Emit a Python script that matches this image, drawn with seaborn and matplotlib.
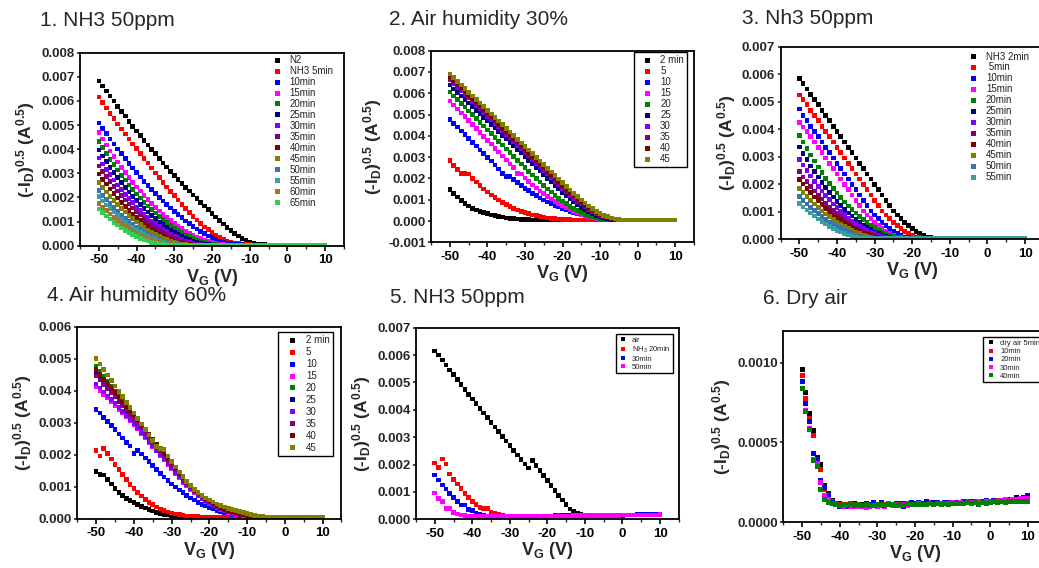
import matplotlib
matplotlib.use("Agg")
import matplotlib.pyplot as plt
import seaborn as sns
import pandas as pd
from matplotlib.lines import Line2D

# ---------------- data (gate voltage grid and sqrt drain current) ----------------
VG = list(range(-50, 11))

# Panel 1 : NH3 50ppm   (values in 1e-4 A^0.5)
p1_labels = ["N2", "NH3 5min", "10min", "15min", "20min", "25min", "30min",
             "35min", "40min", "45min", "50min", "55min", "60min", "65min"]
p1_n2 = [68.3, 66.2, 64.1, 62.0, 59.9, 57.8, 55.7, 53.7, 51.6, 49.5,
         47.5, 45.6, 43.7, 41.8, 39.9, 38.1, 36.2, 34.3, 32.6, 30.8,
         29.0, 27.4, 25.8, 24.2, 22.6, 21.0, 19.5, 17.9, 16.4, 14.9,
         13.4, 11.9, 10.4, 9.0, 7.6, 6.3, 5.1, 4.0, 3.0, 2.2,
         1.5, 1.0, 0.7, 0.5, 0.4, 0.3, 0.3, 0.3, 0.3, 0.3,
         0.3, 0.3, 0.3, 0.3, 0.3, 0.3, 0.3, 0.3, 0.3, 0.3,
         0.3]
p1_5 = [61.7, 59.4, 57.1, 54.9, 52.7, 50.5, 48.4, 46.3, 44.2, 42.2,
        40.2, 38.2, 36.2, 34.2, 32.2, 30.2, 28.2, 26.3, 24.4, 22.5,
        20.7, 18.9, 17.1, 15.4, 13.7, 12.1, 10.6, 9.2, 7.8, 6.6,
        5.4, 4.4, 3.5, 2.7, 2.0, 1.5, 1.1, 0.8, 0.6, 0.5,
        0.4, 0.3, 0.3, 0.3, 0.3, 0.3, 0.3, 0.3, 0.3, 0.3,
        0.3, 0.3, 0.3, 0.3, 0.3, 0.3, 0.3, 0.3, 0.3, 0.3,
        0.3]
p1_10 = [50.8, 48.6, 46.4, 44.3, 42.2, 40.1, 38.1, 36.1, 34.1, 32.2,
         30.3, 28.5, 26.7, 25.0, 23.3, 21.7, 20.1, 18.6, 17.1, 15.7,
         14.3, 12.9, 11.6, 10.3, 9.1, 8.0, 6.9, 5.9, 5.0, 4.1,
         3.3, 2.6, 2.0, 1.5, 1.1, 0.8, 0.6, 0.5, 0.4, 0.3,
         0.3, 0.3, 0.3, 0.3, 0.3, 0.3, 0.3, 0.3, 0.3, 0.3,
         0.3, 0.3, 0.3, 0.3, 0.3, 0.3, 0.3, 0.3, 0.3, 0.3,
         0.3]
p1_15 = [46.8, 44.2, 41.7, 39.3, 37.0, 34.7, 32.5, 30.4, 28.3, 26.3,
         24.4, 22.6, 20.8, 19.1, 17.5, 15.9, 14.4, 13.0, 11.7, 10.4,
         9.2, 8.1, 7.1, 6.1, 5.2, 4.4, 3.6, 2.9, 2.3, 1.8,
         1.3, 0.9, 0.6, 0.4, 0.3, 0.3, 0.3, 0.3, 0.3, 0.3,
         0.3, 0.3, 0.3, 0.3, 0.3, 0.3, 0.3, 0.3, 0.3, 0.3,
         0.3, 0.3, 0.3, 0.3, 0.3, 0.3, 0.3, 0.3, 0.3, 0.3,
         0.3]
p1_20 = [43.1, 40.6, 38.2, 35.8, 33.6, 31.4, 29.2, 27.2, 25.2, 23.3,
         21.5, 19.7, 18.0, 16.4, 14.9, 13.5, 12.1, 10.8, 9.5, 8.4,
         7.3, 6.3, 5.4, 4.5, 3.7, 3.0, 2.4, 1.8, 1.3, 0.9,
         0.6, 0.4, 0.3, 0.3, 0.3, 0.3, 0.3, 0.3, 0.3, 0.3,
         0.3, 0.3, 0.3, 0.3, 0.3, 0.3, 0.3, 0.3, 0.3, 0.3,
         0.3, 0.3, 0.3, 0.3, 0.3, 0.3, 0.3, 0.3, 0.3, 0.3,
         0.3]
p1_25 = [39.6, 37.2, 34.8, 32.5, 30.3, 28.2, 26.1, 24.2, 22.3, 20.5,
         18.7, 17.1, 15.5, 14.0, 12.5, 11.2, 9.9, 8.7, 7.6, 6.5,
         5.6, 4.7, 3.9, 3.1, 2.5, 1.9, 1.4, 1.0, 0.6, 0.4,
         0.3, 0.3, 0.3, 0.3, 0.3, 0.3, 0.3, 0.3, 0.3, 0.3,
         0.3, 0.3, 0.3, 0.3, 0.3, 0.3, 0.3, 0.3, 0.3, 0.3,
         0.3, 0.3, 0.3, 0.3, 0.3, 0.3, 0.3, 0.3, 0.3, 0.3,
         0.3]
p1_30 = [36.3, 33.9, 31.6, 29.4, 27.3, 25.2, 23.2, 21.3, 19.5, 17.8,
         16.1, 14.6, 13.1, 11.7, 10.3, 9.1, 7.9, 6.8, 5.8, 4.9,
         4.0, 3.3, 2.6, 2.0, 1.5, 1.0, 0.7, 0.4, 0.3, 0.3,
         0.3, 0.3, 0.3, 0.3, 0.3, 0.3, 0.3, 0.3, 0.3, 0.3,
         0.3, 0.3, 0.3, 0.3, 0.3, 0.3, 0.3, 0.3, 0.3, 0.3,
         0.3, 0.3, 0.3, 0.3, 0.3, 0.3, 0.3, 0.3, 0.3, 0.3,
         0.3]
p1_35 = [33.0, 30.8, 28.6, 26.5, 24.5, 22.6, 20.8, 19.0, 17.3, 15.7,
         14.2, 12.7, 11.3, 10.0, 8.8, 7.7, 6.6, 5.7, 4.7, 3.9,
         3.2, 2.5, 1.9, 1.4, 1.0, 0.6, 0.4, 0.3, 0.3, 0.3,
         0.3, 0.3, 0.3, 0.3, 0.3, 0.3, 0.3, 0.3, 0.3, 0.3,
         0.3, 0.3, 0.3, 0.3, 0.3, 0.3, 0.3, 0.3, 0.3, 0.3,
         0.3, 0.3, 0.3, 0.3, 0.3, 0.3, 0.3, 0.3, 0.3, 0.3,
         0.3]
p1_40 = [29.7, 27.5, 25.5, 23.5, 21.6, 19.7, 18.0, 16.3, 14.7, 13.2,
         11.8, 10.4, 9.2, 8.0, 6.9, 5.9, 4.9, 4.1, 3.3, 2.6,
         2.0, 1.5, 1.0, 0.7, 0.4, 0.3, 0.3, 0.3, 0.3, 0.3,
         0.3, 0.3, 0.3, 0.3, 0.3, 0.3, 0.3, 0.3, 0.3, 0.3,
         0.3, 0.3, 0.3, 0.3, 0.3, 0.3, 0.3, 0.3, 0.3, 0.3,
         0.3, 0.3, 0.3, 0.3, 0.3, 0.3, 0.3, 0.3, 0.3, 0.3,
         0.3]
p1_45 = [26.1, 24.1, 22.2, 20.4, 18.7, 17.0, 15.4, 13.9, 12.5, 11.2,
         9.9, 8.7, 7.6, 6.5, 5.6, 4.7, 3.9, 3.1, 2.5, 1.9,
         1.4, 1.0, 0.6, 0.4, 0.3, 0.3, 0.3, 0.3, 0.3, 0.3,
         0.3, 0.3, 0.3, 0.3, 0.3, 0.3, 0.3, 0.3, 0.3, 0.3,
         0.3, 0.3, 0.3, 0.3, 0.3, 0.3, 0.3, 0.3, 0.3, 0.3,
         0.3, 0.3, 0.3, 0.3, 0.3, 0.3, 0.3, 0.3, 0.3, 0.3,
         0.3]
p1_50 = [22.8, 20.9, 19.2, 17.5, 15.8, 14.3, 12.8, 11.4, 10.1, 8.9,
         7.8, 6.7, 5.7, 4.8, 4.0, 3.2, 2.5, 1.9, 1.4, 1.0,
         0.6, 0.4, 0.3, 0.3, 0.3, 0.3, 0.3, 0.3, 0.3, 0.3,
         0.3, 0.3, 0.3, 0.3, 0.3, 0.3, 0.3, 0.3, 0.3, 0.3,
         0.3, 0.3, 0.3, 0.3, 0.3, 0.3, 0.3, 0.3, 0.3, 0.3,
         0.3, 0.3, 0.3, 0.3, 0.3, 0.3, 0.3, 0.3, 0.3, 0.3,
         0.3]
p1_55 = [20.3, 18.6, 16.9, 15.3, 13.9, 12.4, 11.1, 9.8, 8.6, 7.5,
         6.5, 5.5, 4.6, 3.8, 3.1, 2.5, 1.9, 1.4, 1.0, 0.6,
         0.4, 0.3, 0.3, 0.3, 0.3, 0.3, 0.3, 0.3, 0.3, 0.3,
         0.3, 0.3, 0.3, 0.3, 0.3, 0.3, 0.3, 0.3, 0.3, 0.3,
         0.3, 0.3, 0.3, 0.3, 0.3, 0.3, 0.3, 0.3, 0.3, 0.3,
         0.3, 0.3, 0.3, 0.3, 0.3, 0.3, 0.3, 0.3, 0.3, 0.3,
         0.3]
p1_60 = [17.5, 15.9, 14.5, 13.1, 11.7, 10.5, 9.3, 8.1, 7.1, 6.1,
         5.2, 4.4, 3.6, 2.9, 2.3, 1.8, 1.3, 0.9, 0.6, 0.4,
         0.3, 0.3, 0.3, 0.3, 0.3, 0.3, 0.3, 0.3, 0.3, 0.3,
         0.3, 0.3, 0.3, 0.3, 0.3, 0.3, 0.3, 0.3, 0.3, 0.3,
         0.3, 0.3, 0.3, 0.3, 0.3, 0.3, 0.3, 0.3, 0.3, 0.3,
         0.3, 0.3, 0.3, 0.3, 0.3, 0.3, 0.3, 0.3, 0.3, 0.3,
         0.3]
p1_65 = [15.2, 13.7, 12.3, 11.0, 9.7, 8.6, 7.4, 6.4, 5.5, 4.6,
         3.8, 3.1, 2.4, 1.9, 1.4, 1.0, 0.6, 0.4, 0.3, 0.3,
         0.3, 0.3, 0.3, 0.3, 0.3, 0.3, 0.3, 0.3, 0.3, 0.3,
         0.3, 0.3, 0.3, 0.3, 0.3, 0.3, 0.3, 0.3, 0.3, 0.3,
         0.3, 0.3, 0.3, 0.3, 0.3, 0.3, 0.3, 0.3, 0.3, 0.3,
         0.3, 0.3, 0.3, 0.3, 0.3, 0.3, 0.3, 0.3, 0.3, 0.3,
         0.3]

# Panel 2 : Air humidity 30%   (1e-4 A^0.5)
p2_labels = ["2 min", "5", "10", "15", "20", "25", "30", "35", "40", "45"]
p2_2 = [14.7, 13.0, 11.2, 9.6, 8.2, 7.0, 5.9, 5.2, 4.5, 3.9,
        3.4, 2.9, 2.5, 2.1, 1.8, 1.5, 1.3, 1.1, 0.9, 0.8,
        0.7, 0.6, 0.5, 0.5, 0.4, 0.4, 0.4, 0.4, 0.4, 0.4,
        0.4, 0.4, 0.4, 0.4, 0.4, 0.4, 0.4, 0.4, 0.4, 0.4,
        0.4, 0.4, 0.4, 0.4, 0.4, 0.4, 0.4, 0.4, 0.4, 0.4,
        0.4, 0.4, 0.4, 0.4, 0.4, 0.4, 0.4, 0.4, 0.4, 0.4,
        0.4]
p2_5 = [28.5, 26.2, 24.2, 22.4, 22.2, 22.0, 20.0, 18.3, 16.6, 15.0,
        13.6, 12.2, 11.0, 9.8, 8.7, 7.7, 6.8, 6.0, 5.2, 4.6,
        4.0, 3.4, 2.9, 2.5, 2.1, 1.8, 1.5, 1.3, 1.1, 0.9,
        0.8, 0.7, 0.6, 0.5, 0.5, 0.4, 0.4, 0.4, 0.4, 0.4,
        0.4, 0.4, 0.4, 0.4, 0.4, 0.4, 0.4, 0.4, 0.4, 0.4,
        0.4, 0.4, 0.4, 0.4, 0.4, 0.4, 0.4, 0.4, 0.4, 0.4,
        0.4]
p2_10 = [47.7, 45.9, 44.1, 42.3, 40.6, 38.8, 37.0, 35.2, 33.4, 31.7,
         29.9, 28.1, 26.3, 24.5, 22.2, 21.0, 20.8, 19.4, 18.0, 16.7,
         15.4, 14.2, 13.0, 11.9, 10.9, 9.9, 9.0, 8.1, 7.3, 6.6,
         5.9, 5.2, 4.6, 4.0, 3.5, 3.0, 2.5, 2.1, 1.7, 1.4,
         1.1, 0.9, 0.7, 0.6, 0.5, 0.4, 0.4, 0.4, 0.4, 0.4,
         0.4, 0.4, 0.4, 0.4, 0.4, 0.4, 0.4, 0.4, 0.4, 0.4,
         0.4]
p2_15 = [56.3, 54.5, 52.6, 50.8, 49.0, 47.1, 45.3, 43.4, 41.6, 39.7,
         37.9, 36.1, 34.2, 32.4, 30.5, 28.7, 26.8, 25.0, 22.3, 22.0,
         20.2, 18.6, 17.0, 15.5, 14.1, 12.8, 11.5, 10.3, 9.2, 8.2,
         7.2, 6.3, 5.4, 4.6, 3.9, 3.2, 2.6, 2.1, 1.7, 1.3,
         1.0, 0.8, 0.6, 0.5, 0.4, 0.4, 0.4, 0.4, 0.4, 0.4,
         0.4, 0.4, 0.4, 0.4, 0.4, 0.4, 0.4, 0.4, 0.4, 0.4,
         0.4]
p2_20 = [60.6, 58.8, 57.0, 55.2, 53.5, 51.7, 49.9, 48.1, 46.3, 44.6,
         42.8, 41.0, 39.2, 37.4, 35.7, 33.9, 32.1, 30.3, 28.5, 26.8,
         25.0, 23.3, 21.6, 19.9, 18.3, 16.7, 15.1, 13.6, 12.1, 10.7,
         9.4, 8.1, 6.9, 5.8, 4.8, 3.9, 3.1, 2.4, 1.8, 1.4,
         1.0, 0.8, 0.6, 0.5, 0.4, 0.4, 0.4, 0.4, 0.4, 0.4,
         0.4, 0.4, 0.4, 0.4, 0.4, 0.4, 0.4, 0.4, 0.4, 0.4,
         0.4]
p2_25 = [63.8, 62.1, 60.4, 58.8, 57.1, 55.4, 53.7, 52.0, 50.4, 48.7,
         47.0, 45.3, 43.6, 42.0, 40.3, 38.6, 36.9, 35.2, 33.6, 31.9,
         30.2, 28.5, 26.8, 25.2, 23.5, 21.8, 20.1, 18.4, 16.8, 15.1,
         13.4, 11.8, 10.3, 8.9, 7.6, 6.4, 5.3, 4.3, 3.4, 2.6,
         2.0, 1.5, 1.1, 0.8, 0.6, 0.5, 0.4, 0.4, 0.4, 0.4,
         0.4, 0.4, 0.4, 0.4, 0.4, 0.4, 0.4, 0.4, 0.4, 0.4,
         0.4]
p2_30 = [66.2, 64.5, 62.8, 61.1, 59.4, 57.7, 56.0, 54.3, 52.6, 50.9,
         49.2, 47.5, 45.8, 44.1, 42.4, 40.7, 39.0, 37.3, 35.6, 33.9,
         32.2, 30.5, 28.8, 27.1, 25.4, 23.7, 22.0, 20.3, 18.6, 16.9,
         15.2, 13.6, 12.1, 10.6, 9.2, 7.9, 6.6, 5.4, 4.3, 3.4,
         2.6, 1.9, 1.4, 1.0, 0.7, 0.5, 0.4, 0.4, 0.4, 0.4,
         0.4, 0.4, 0.4, 0.4, 0.4, 0.4, 0.4, 0.4, 0.4, 0.4,
         0.4]
p2_35 = [67.0, 65.3, 63.6, 61.9, 60.2, 58.5, 56.8, 55.1, 53.4, 51.7,
         50.0, 48.3, 46.6, 44.9, 43.2, 41.5, 39.8, 38.1, 36.4, 34.7,
         33.0, 31.3, 29.6, 27.9, 26.2, 24.5, 22.8, 21.1, 19.4, 17.7,
         16.0, 14.3, 12.7, 11.2, 9.7, 8.3, 7.0, 5.8, 4.7, 3.7,
         2.8, 2.1, 1.5, 1.1, 0.8, 0.6, 0.4, 0.4, 0.4, 0.4,
         0.4, 0.4, 0.4, 0.4, 0.4, 0.4, 0.4, 0.4, 0.4, 0.4,
         0.4]
p2_40 = [67.8, 66.1, 64.4, 62.7, 61.0, 59.3, 57.6, 55.9, 54.2, 52.5,
         50.8, 49.1, 47.4, 45.7, 44.0, 42.3, 40.6, 38.9, 37.2, 35.5,
         33.8, 32.1, 30.4, 28.7, 27.0, 25.3, 23.6, 21.9, 20.2, 18.5,
         16.8, 15.1, 13.5, 11.9, 10.4, 9.0, 7.6, 6.3, 5.1, 4.0,
         3.1, 2.3, 1.7, 1.2, 0.8, 0.6, 0.4, 0.4, 0.4, 0.4,
         0.4, 0.4, 0.4, 0.4, 0.4, 0.4, 0.4, 0.4, 0.4, 0.4,
         0.4]
p2_45 = [69.0, 67.3, 65.6, 63.9, 62.2, 60.5, 58.8, 57.1, 55.4, 53.7,
         52.0, 50.3, 48.6, 46.9, 45.2, 43.5, 41.8, 40.1, 38.4, 36.7,
         35.0, 33.3, 31.6, 29.9, 28.2, 26.5, 24.8, 23.1, 21.4, 19.7,
         18.0, 16.3, 14.6, 13.0, 11.4, 9.9, 8.5, 7.1, 5.8, 4.6,
         3.6, 2.7, 2.0, 1.4, 1.0, 0.7, 0.5, 0.4, 0.4, 0.4,
         0.4, 0.4, 0.4, 0.4, 0.4, 0.4, 0.4, 0.4, 0.4, 0.4,
         0.4]

# Panel 3 : Nh3 50ppm   (1e-4 A^0.5)
p3_labels = ["NH3 2min", " 5min", "10min", "15min", "20min", "25min",
             "30min", "35min", "40min", "45min", "50min", "55min"]
p3_2 = [58.5, 56.6, 54.6, 52.7, 50.8, 48.9, 46.9, 45.0, 43.1, 41.1,
        39.2, 37.3, 35.4, 33.4, 31.5, 29.6, 27.6, 25.7, 23.8, 21.9,
        19.9, 18.0, 16.1, 14.1, 12.2, 10.3, 8.9, 7.5, 6.2, 5.0,
        3.9, 2.9, 2.1, 1.4, 0.9, 0.6, 0.4, 0.3, 0.3, 0.3,
        0.3, 0.3, 0.3, 0.3, 0.3, 0.3, 0.3, 0.3, 0.3, 0.3,
        0.3, 0.3, 0.3, 0.3, 0.3, 0.3, 0.3, 0.3, 0.3, 0.3,
        0.3]
p3_5 = [52.4, 50.8, 48.9, 46.9, 45.0, 43.1, 41.1, 39.2, 37.3, 35.4,
        33.4, 31.5, 29.6, 27.6, 25.7, 23.8, 21.9, 19.9, 18.0, 16.1,
        14.1, 12.2, 10.3, 8.9, 7.5, 6.2, 5.0, 3.9, 2.9, 2.1,
        1.4, 0.9, 0.6, 0.4, 0.3, 0.3, 0.3, 0.3, 0.3, 0.3,
        0.3, 0.3, 0.3, 0.3, 0.3, 0.3, 0.3, 0.3, 0.3, 0.3,
        0.3, 0.3, 0.3, 0.3, 0.3, 0.3, 0.3, 0.3, 0.3, 0.3,
        0.3]
p3_10 = [47.3, 45.0, 43.1, 41.1, 39.2, 37.3, 35.4, 33.4, 31.5, 29.6,
         27.6, 25.7, 23.8, 21.9, 19.9, 18.0, 16.1, 14.1, 12.2, 10.3,
         8.9, 7.5, 6.2, 5.0, 3.9, 2.9, 2.1, 1.4, 0.9, 0.6,
         0.4, 0.3, 0.3, 0.3, 0.3, 0.3, 0.3, 0.3, 0.3, 0.3,
         0.3, 0.3, 0.3, 0.3, 0.3, 0.3, 0.3, 0.3, 0.3, 0.3,
         0.3, 0.3, 0.3, 0.3, 0.3, 0.3, 0.3, 0.3, 0.3, 0.3,
         0.3]
p3_15 = [42.4, 40.8, 39.2, 37.3, 35.4, 33.4, 31.5, 29.6, 27.6, 25.7,
         23.8, 21.9, 19.9, 18.0, 16.1, 14.1, 12.2, 10.3, 8.9, 7.5,
         6.2, 5.0, 3.9, 2.9, 2.1, 1.4, 0.9, 0.6, 0.4, 0.3,
         0.3, 0.3, 0.3, 0.3, 0.3, 0.3, 0.3, 0.3, 0.3, 0.3,
         0.3, 0.3, 0.3, 0.3, 0.3, 0.3, 0.3, 0.3, 0.3, 0.3,
         0.3, 0.3, 0.3, 0.3, 0.3, 0.3, 0.3, 0.3, 0.3, 0.3,
         0.3]
p3_20 = [37.8, 35.3, 32.9, 30.6, 28.4, 26.3, 24.2, 22.2, 20.3, 18.5,
         16.8, 15.2, 13.6, 12.1, 10.8, 9.5, 8.2, 7.1, 6.0, 5.1,
         4.2, 3.4, 2.7, 2.1, 1.5, 1.1, 0.7, 0.4, 0.3, 0.3,
         0.3, 0.3, 0.3, 0.3, 0.3, 0.3, 0.3, 0.3, 0.3, 0.3,
         0.3, 0.3, 0.3, 0.3, 0.3, 0.3, 0.3, 0.3, 0.3, 0.3,
         0.3, 0.3, 0.3, 0.3, 0.3, 0.3, 0.3, 0.3, 0.3, 0.3,
         0.3]
p3_25 = [33.5, 31.2, 28.9, 26.7, 24.6, 22.6, 20.7, 18.8, 17.1, 15.4,
         13.8, 12.3, 10.9, 9.6, 8.4, 7.2, 6.2, 5.2, 4.3, 3.5,
         2.7, 2.1, 1.5, 1.1, 0.7, 0.4, 0.3, 0.3, 0.3, 0.3,
         0.3, 0.3, 0.3, 0.3, 0.3, 0.3, 0.3, 0.3, 0.3, 0.3,
         0.3, 0.3, 0.3, 0.3, 0.3, 0.3, 0.3, 0.3, 0.3, 0.3,
         0.3, 0.3, 0.3, 0.3, 0.3, 0.3, 0.3, 0.3, 0.3, 0.3,
         0.3]
p3_30 = [29.1, 27.0, 24.9, 23.0, 21.1, 19.3, 17.6, 16.0, 14.4, 12.9,
         11.5, 10.2, 9.0, 7.8, 6.7, 5.7, 4.8, 4.0, 3.2, 2.6,
         2.0, 1.4, 1.0, 0.6, 0.4, 0.3, 0.3, 0.3, 0.3, 0.3,
         0.3, 0.3, 0.3, 0.3, 0.3, 0.3, 0.3, 0.3, 0.3, 0.3,
         0.3, 0.3, 0.3, 0.3, 0.3, 0.3, 0.3, 0.3, 0.3, 0.3,
         0.3, 0.3, 0.3, 0.3, 0.3, 0.3, 0.3, 0.3, 0.3, 0.3,
         0.3]
p3_35 = [24.6, 22.7, 21.0, 19.3, 17.6, 16.0, 14.6, 13.1, 11.8, 10.5,
         9.3, 8.2, 7.1, 6.2, 5.2, 4.4, 3.6, 2.9, 2.3, 1.8,
         1.3, 0.9, 0.6, 0.4, 0.3, 0.3, 0.3, 0.3, 0.3, 0.3,
         0.3, 0.3, 0.3, 0.3, 0.3, 0.3, 0.3, 0.3, 0.3, 0.3,
         0.3, 0.3, 0.3, 0.3, 0.3, 0.3, 0.3, 0.3, 0.3, 0.3,
         0.3, 0.3, 0.3, 0.3, 0.3, 0.3, 0.3, 0.3, 0.3, 0.3,
         0.3]
p3_40 = [21.8, 20.1, 18.5, 16.9, 15.4, 14.0, 12.6, 11.3, 10.1, 8.9,
         7.8, 6.8, 5.9, 5.0, 4.2, 3.5, 2.8, 2.2, 1.7, 1.3,
         0.9, 0.6, 0.4, 0.3, 0.3, 0.3, 0.3, 0.3, 0.3, 0.3,
         0.3, 0.3, 0.3, 0.3, 0.3, 0.3, 0.3, 0.3, 0.3, 0.3,
         0.3, 0.3, 0.3, 0.3, 0.3, 0.3, 0.3, 0.3, 0.3, 0.3,
         0.3, 0.3, 0.3, 0.3, 0.3, 0.3, 0.3, 0.3, 0.3, 0.3,
         0.3]
p3_45 = [18.4, 16.9, 15.5, 14.1, 12.8, 11.5, 10.3, 9.2, 8.2, 7.2,
         6.3, 5.4, 4.6, 3.9, 3.2, 2.6, 2.0, 1.6, 1.1, 0.8,
         0.5, 0.4, 0.3, 0.3, 0.3, 0.3, 0.3, 0.3, 0.3, 0.3,
         0.3, 0.3, 0.3, 0.3, 0.3, 0.3, 0.3, 0.3, 0.3, 0.3,
         0.3, 0.3, 0.3, 0.3, 0.3, 0.3, 0.3, 0.3, 0.3, 0.3,
         0.3, 0.3, 0.3, 0.3, 0.3, 0.3, 0.3, 0.3, 0.3, 0.3,
         0.3]
p3_50 = [15.5, 14.1, 12.8, 11.6, 10.4, 9.3, 8.2, 7.2, 6.3, 5.4,
         4.6, 3.9, 3.2, 2.6, 2.0, 1.6, 1.2, 0.8, 0.5, 0.4,
         0.3, 0.3, 0.3, 0.3, 0.3, 0.3, 0.3, 0.3, 0.3, 0.3,
         0.3, 0.3, 0.3, 0.3, 0.3, 0.3, 0.3, 0.3, 0.3, 0.3,
         0.3, 0.3, 0.3, 0.3, 0.3, 0.3, 0.3, 0.3, 0.3, 0.3,
         0.3, 0.3, 0.3, 0.3, 0.3, 0.3, 0.3, 0.3, 0.3, 0.3,
         0.3]
p3_55 = [13.1, 11.8, 10.6, 9.5, 8.4, 7.4, 6.4, 5.5, 4.7, 4.0,
         3.3, 2.7, 2.1, 1.6, 1.2, 0.8, 0.5, 0.4, 0.3, 0.3,
         0.3, 0.3, 0.3, 0.3, 0.3, 0.3, 0.3, 0.3, 0.3, 0.3,
         0.3, 0.3, 0.3, 0.3, 0.3, 0.3, 0.3, 0.3, 0.3, 0.3,
         0.3, 0.3, 0.3, 0.3, 0.3, 0.3, 0.3, 0.3, 0.3, 0.3,
         0.3, 0.3, 0.3, 0.3, 0.3, 0.3, 0.3, 0.3, 0.3, 0.3,
         0.3]

# Panel 4 : Air humidity 60%   (1e-4 A^0.5)
p4_labels = ["2 min", "5", "10", "15", "20", "25", "30", "35", "40", "45"]
p4_2 = [14.7, 13.9, 13.6, 12.3, 10.8, 9.5, 8.2, 7.3, 6.4, 5.6,
        5.0, 4.5, 3.9, 3.3, 2.8, 2.4, 2.0, 1.7, 1.4, 1.1,
        0.9, 0.8, 0.7, 0.6, 0.5, 0.5, 0.4, 0.4, 0.4, 0.4,
        0.4, 0.4, 0.4, 0.4, 0.4, 0.4, 0.4, 0.4, 0.4, 0.4,
        0.4, 0.4, 0.4, 0.4, 0.4, 0.4, 0.4, 0.4, 0.4, 0.4,
        0.4, 0.4, 0.4, 0.4, 0.4, 0.4, 0.4, 0.4, 0.4, 0.4,
        0.4]
p4_5 = [21.3, 19.6, 22.0, 20.4, 18.6, 17.0, 15.4, 13.9, 12.3, 10.7,
        9.5, 8.2, 7.1, 6.0, 5.1, 4.4, 3.6, 3.0, 2.5, 2.1,
        1.8, 1.5, 1.3, 1.1, 0.9, 0.8, 0.7, 0.6, 0.5, 0.5,
        0.4, 0.4, 0.4, 0.4, 0.4, 0.4, 0.4, 0.4, 0.4, 0.4,
        0.4, 0.4, 0.4, 0.4, 0.4, 0.4, 0.4, 0.4, 0.4, 0.4,
        0.4, 0.4, 0.4, 0.4, 0.4, 0.4, 0.4, 0.4, 0.4, 0.4,
        0.4]
p4_10 = [34.2, 33.0, 31.7, 30.4, 29.1, 27.8, 26.5, 25.2, 23.9, 22.7,
         20.4, 21.4, 20.2, 19.0, 17.8, 16.6, 15.4, 14.2, 13.0, 11.9,
         10.9, 9.9, 9.0, 8.1, 7.3, 6.5, 5.8, 5.1, 4.5, 4.0,
         3.5, 3.0, 2.6, 2.2, 1.9, 1.6, 1.3, 1.1, 0.9, 0.8,
         0.7, 0.6, 0.5, 0.4, 0.4, 0.4, 0.4, 0.4, 0.4, 0.4,
         0.4, 0.4, 0.4, 0.4, 0.4, 0.4, 0.4, 0.4, 0.4, 0.4,
         0.4]
p4_15 = [41.3, 40.1, 38.9, 37.7, 36.5, 35.4, 34.2, 33.0, 31.8, 30.7,
         29.5, 28.1, 26.7, 25.3, 23.9, 22.5, 21.1, 19.7, 18.3, 16.9,
         15.5, 14.1, 12.7, 11.4, 10.2, 9.1, 8.1, 7.1, 6.2, 5.4,
         4.7, 4.0, 3.4, 2.9, 2.4, 2.0, 1.7, 1.4, 1.2, 1.0,
         0.8, 0.7, 0.6, 0.5, 0.5, 0.4, 0.4, 0.4, 0.4, 0.4,
         0.4, 0.4, 0.4, 0.4, 0.4, 0.4, 0.4, 0.4, 0.4, 0.4,
         0.4]
p4_20 = [47.5, 46.0, 44.4, 42.9, 41.3, 39.8, 38.2, 36.7, 35.1, 33.6,
         32.0, 30.5, 29.0, 27.5, 26.0, 24.5, 23.0, 21.5, 20.0, 18.5,
         17.0, 15.5, 14.0, 12.6, 11.3, 10.1, 9.0, 8.0, 7.0, 6.1,
         5.3, 4.6, 4.0, 3.4, 2.9, 2.5, 2.1, 1.8, 1.5, 1.2,
         1.0, 0.8, 0.7, 0.6, 0.5, 0.4, 0.4, 0.4, 0.4, 0.4,
         0.4, 0.4, 0.4, 0.4, 0.4, 0.4, 0.4, 0.4, 0.4, 0.4,
         0.4]
p4_25 = [45.1, 43.7, 42.3, 40.9, 39.5, 38.0, 36.6, 35.2, 33.8, 32.4,
         31.0, 29.5, 28.1, 26.6, 25.2, 23.7, 22.3, 20.8, 19.4, 17.9,
         16.5, 15.0, 13.6, 12.3, 11.0, 9.8, 8.7, 7.7, 6.8, 5.9,
         5.1, 4.4, 3.8, 3.3, 2.8, 2.4, 2.0, 1.7, 1.4, 1.2,
         1.0, 0.8, 0.7, 0.6, 0.5, 0.4, 0.4, 0.4, 0.4, 0.4,
         0.4, 0.4, 0.4, 0.4, 0.4, 0.4, 0.4, 0.4, 0.4, 0.4,
         0.4]
p4_30 = [42.1, 40.9, 39.6, 38.4, 37.2, 36.0, 34.7, 33.5, 32.3, 31.0,
         29.8, 28.4, 27.0, 25.6, 24.2, 22.8, 21.4, 20.0, 18.6, 17.2,
         15.8, 14.4, 13.0, 11.7, 10.5, 9.3, 8.3, 7.3, 6.4, 5.6,
         4.9, 4.2, 3.6, 3.1, 2.6, 2.2, 1.9, 1.6, 1.3, 1.1,
         0.9, 0.8, 0.7, 0.6, 0.5, 0.4, 0.4, 0.4, 0.4, 0.4,
         0.4, 0.4, 0.4, 0.4, 0.4, 0.4, 0.4, 0.4, 0.4, 0.4,
         0.4]
p4_35 = [44.6, 43.3, 42.0, 40.6, 39.3, 38.0, 36.6, 35.3, 34.0, 32.6,
         31.3, 29.8, 28.4, 26.9, 25.5, 24.0, 22.6, 21.1, 19.6, 18.2,
         16.7, 15.2, 13.8, 12.4, 11.1, 9.9, 8.8, 7.8, 6.9, 6.0,
         5.2, 4.5, 3.9, 3.3, 2.8, 2.4, 2.0, 1.7, 1.4, 1.2,
         1.0, 0.8, 0.7, 0.6, 0.5, 0.4, 0.4, 0.4, 0.4, 0.4,
         0.4, 0.4, 0.4, 0.4, 0.4, 0.4, 0.4, 0.4, 0.4, 0.4,
         0.4]
p4_40 = [46.7, 45.1, 43.6, 42.2, 40.7, 39.5, 38.0, 36.5, 35.1, 33.7,
         32.4, 30.9, 29.4, 27.9, 26.4, 24.9, 23.4, 21.9, 20.4, 18.8,
         17.3, 15.8, 14.3, 12.9, 11.6, 10.4, 9.3, 8.2, 7.2, 6.3,
         5.5, 4.8, 4.1, 3.5, 3.0, 2.6, 2.2, 1.8, 1.5, 1.2,
         1.0, 0.8, 0.7, 0.6, 0.5, 0.4, 0.4, 0.4, 0.4, 0.4,
         0.4, 0.4, 0.4, 0.4, 0.4, 0.4, 0.4, 0.4, 0.4, 0.4,
         0.4]
p4_45 = [50.0, 48.3, 46.6, 44.9, 43.2, 41.5, 39.8, 38.1, 36.4, 34.7,
         33.0, 31.3, 29.6, 27.9, 26.2, 24.5, 22.6, 22.0, 21.6, 19.6,
         17.9, 16.2, 14.6, 13.1, 11.7, 10.4, 9.2, 8.1, 7.2, 6.5,
         5.8, 5.2, 4.6, 4.1, 3.6, 3.2, 2.8, 2.5, 2.2, 1.9,
         1.6, 1.3, 1.0, 0.8, 0.6, 0.5, 0.4, 0.4, 0.4, 0.4,
         0.4, 0.4, 0.4, 0.4, 0.4, 0.4, 0.4, 0.4, 0.4, 0.4,
         0.4]

# Panel 5 : NH3 50ppm   (1e-4 A^0.5)
p5_labels = ["air", r"NH$_3$ 20min", "30min", "50min"]
p5_air = [61.5, 60.0, 58.2, 56.4, 54.6, 52.8, 51.0, 49.2, 47.4, 45.6,
          43.9, 42.2, 40.5, 38.8, 37.1, 35.4, 33.7, 32.0, 30.3, 28.6,
          26.9, 25.2, 23.5, 21.8, 20.2, 18.7, 21.4, 19.6, 17.8, 16.0,
          14.2, 12.4, 10.6, 8.8, 7.0, 5.3, 3.8, 2.8, 2.1, 1.7,
          1.5, 1.4, 1.3, 1.3, 1.3, 1.3, 1.4, 1.4, 1.4, 1.4,
          1.4, 1.5, 1.5, 1.5, 1.5, 1.6, 1.6, 1.6, 1.7, 1.7,
          1.8]
p5_20 = [20.5, 18.9, 22.0, 20.2, 16.6, 14.6, 12.9, 11.3, 9.5, 7.9,
         6.6, 5.5, 4.3, 3.9, 3.9, 2.4, 2.2, 1.7, 1.4, 1.2,
         1.2, 1.1, 1.1, 1.1, 1.2, 1.1, 1.1, 1.2, 1.2, 1.1,
         1.2, 1.2, 1.2, 1.3, 1.2, 1.2, 1.3, 1.3, 1.2, 1.3,
         1.3, 1.3, 1.3, 1.4, 1.3, 1.4, 1.4, 1.4, 1.4, 1.5,
         1.5, 1.5, 1.5, 1.5, 1.6, 1.6, 1.6, 1.6, 1.7, 1.7,
         1.7]
p5_30 = [16.2, 14.4, 12.5, 11.0, 9.5, 8.0, 6.5, 5.2, 5.2, 3.5,
         3.3, 2.2, 1.7, 1.4, 1.2, 1.2, 1.1, 1.1, 1.1, 1.1,
         1.1, 1.1, 1.1, 1.2, 1.1, 1.2, 1.2, 1.2, 1.2, 1.2,
         1.2, 1.2, 1.3, 1.2, 1.3, 1.3, 1.3, 1.3, 1.3, 1.4,
         1.4, 1.4, 1.4, 1.4, 1.4, 1.5, 1.5, 1.5, 1.5, 1.5,
         1.6, 1.6, 1.6, 1.6, 1.7, 1.7, 1.7, 1.7, 1.8, 1.8,
         1.8]
p5_50 = [9.6, 7.7, 6.5, 4.0, 3.9, 2.5, 2.0, 1.6, 1.3, 1.1,
         1.0, 1.0, 1.0, 1.0, 1.0, 1.0, 1.0, 1.0, 1.0, 1.1,
         1.1, 1.1, 1.1, 1.1, 1.1, 1.1, 1.1, 1.1, 1.2, 1.2,
         1.2, 1.2, 1.2, 1.2, 1.2, 1.2, 1.2, 1.3, 1.3, 1.3,
         1.3, 1.3, 1.3, 1.3, 1.4, 1.4, 1.4, 1.4, 1.4, 1.4,
         1.5, 1.5, 1.5, 1.5, 1.5, 1.6, 1.6, 1.6, 1.6, 1.6,
         1.7]

# Panel 6 : Dry air   (1e-5 A^0.5)
p6_labels = ["dry air 5min", "10min", "20min", "30min", "40min"]
p6_5 = [95.5, 81.4, 68.2, 57.4, 40.5, 36.1, 22.9, 18.0, 13.5, 12.0,
        11.5, 11.0, 10.8, 11.2, 11.5, 10.6, 11.0, 11.3, 10.4, 10.8,
        11.0, 10.5, 11.2, 10.9, 11.3, 11.5, 11.0, 11.6, 11.2, 11.4,
        11.8, 11.3, 11.6, 11.2, 11.9, 11.5, 12.0, 11.7, 12.2, 11.9,
        12.3, 12.0, 12.4, 12.1, 12.5, 12.8, 12.3, 12.6, 12.2, 12.7,
        13.0, 12.8, 13.2, 12.9, 13.5, 13.1, 13.8, 15.5, 14.0, 14.3,
        14.6]
p6_10 = [91.9, 77.7, 65.1, 54.5, 38.0, 33.0, 20.7, 16.9, 13.0, 11.5,
         11.0, 10.6, 11.2, 10.8, 11.4, 11.0, 10.5, 10.8, 11.2, 10.6,
         11.3, 10.9, 11.1, 11.5, 11.0, 11.4, 11.8, 11.2, 11.5, 11.1,
         11.6, 11.9, 11.4, 11.7, 12.1, 11.8, 12.2, 11.9, 12.3, 12.0,
         12.4, 12.1, 12.6, 12.3, 12.8, 12.4, 12.9, 12.6, 13.1, 12.8,
         13.2, 13.0, 13.5, 13.2, 13.8, 13.4, 14.0, 13.7, 14.2, 14.5,
         14.8]
p6_20 = [88.3, 74.5, 63.0, 43.2, 39.6, 25.9, 21.9, 16.0, 12.5, 11.0,
         10.0, 9.8, 10.2, 9.6, 10.5, 11.2, 10.4, 11.8, 10.9, 12.2,
         11.4, 12.5, 10.8, 11.6, 11.2, 12.0, 11.5, 9.9, 11.8, 12.3,
         11.6, 12.4, 11.9, 12.8, 11.7, 12.1, 12.5, 11.8, 12.6, 12.2,
         12.0, 12.5, 12.3, 12.8, 12.4, 13.0, 12.6, 13.3, 12.9, 13.4,
         13.1, 13.6, 12.4, 13.8, 13.3, 14.0, 13.6, 14.4, 14.8, 15.6,
         17.0]
p6_30 = [84.0, 70.0, 58.5, 39.5, 37.0, 24.8, 16.5, 14.0, 12.0, 11.0,
         10.5, 10.0, 10.4, 9.8, 10.2, 9.6, 10.0, 9.4, 9.8, 10.3,
         9.7, 10.6, 10.2, 11.5, 10.8, 11.2, 10.6, 11.0, 10.7, 11.3,
         10.9, 11.5, 11.2, 11.0, 11.6, 11.3, 11.8, 11.5, 12.0, 11.7,
         12.1, 11.8, 12.3, 12.0, 12.5, 12.2, 12.6, 12.9, 12.5, 13.0,
         12.8, 13.3, 13.0, 13.6, 14.2, 13.5, 14.0, 14.3, 14.6, 15.0,
         15.2]
p6_40 = [83.5, 69.7, 58.0, 39.0, 34.9, 20.7, 14.0, 12.5, 11.5, 11.0,
         10.5, 11.2, 10.8, 11.5, 10.6, 11.0, 10.4, 11.3, 10.8, 10.5,
         10.9, 11.2, 10.7, 11.0, 11.4, 10.8, 11.1, 10.6, 11.5, 11.0,
         11.3, 10.9, 11.4, 11.0, 11.7, 11.2, 11.5, 11.1, 11.8, 11.4,
         11.9, 11.5, 12.0, 11.6, 12.2, 11.8, 12.1, 11.3, 12.4, 12.0,
         12.5, 12.9, 12.6, 13.0, 12.7, 13.1, 12.8, 13.3, 12.9, 13.2,
         13.0]

# ---------------- styling ----------------
sns.set_style("ticks")
plt.rcParams["font.family"] = ["Liberation Sans", "DejaVu Sans"]
plt.rcParams["mathtext.fontset"] = "custom"
plt.rcParams["mathtext.rm"] = "Liberation Sans"
plt.rcParams["mathtext.it"] = "Liberation Sans:italic"
plt.rcParams["mathtext.bf"] = "Liberation Sans:bold"

COLORS14 = ["#000000", "#FF0000", "#0000FF", "#FF00FF", "#008000", "#000080",
            "#8000FF", "#800080", "#800000", "#808000", "#3B6FB6", "#3A9E9E",
            "#A8712E", "#33CC55"]
COLORS10 = ["#000000", "#FF0000", "#0000FF", "#FF00FF", "#008000", "#000080",
            "#8000FF", "#800080", "#800000", "#808000"]

W, H = 1039, 568
fig = plt.figure(figsize=(W / 100, H / 100), dpi=100)


def box(l, t, r, b):
    return [l / W, 1 - b / H, (r - l) / W, (b - t) / H]


YLAB = r"(-I$_\mathbf{D}$)$^\mathbf{0.5}$ (A$^\mathbf{0.5}$)"
XLAB = r"V$_\mathbf{G}$ (V)"


def panel(rect, title, tpos, labels, series, colors, scale, ylim, yticks,
          yfmt, msize, leg):
    ax = fig.add_axes(box(*rect))
    rows = []
    for lab, vals in zip(labels, series):
        assert len(vals) == len(VG), (title, lab, len(vals))
        for v, y in zip(VG, vals):
            rows.append((v, y * scale, lab))
    df = pd.DataFrame(rows, columns=["VG", "I", "series"])
    sns.scatterplot(data=df, x="VG", y="I", hue="series", hue_order=labels,
                    palette=dict(zip(labels, colors)), marker="s", s=msize,
                    linewidth=0, legend=False, ax=ax)
    ax.set_xlim(-55, 15)
    ax.set_ylim(*ylim)
    xt = list(range(-50, 11, 10))
    ax.set_xticks(xt)
    ax.set_xticklabels([str(t) for t in xt], fontweight="bold", fontsize=9.5)
    ax.set_xticks(list(range(-55, 16, 5)), minor=True)
    ax.set_yticks(yticks)
    ax.set_yticklabels([yfmt % t for t in yticks], fontweight="bold",
                       fontsize=9.5)
    ax.tick_params(axis="x", which="major", length=3.5, width=1.2, pad=2.5,
                   direction="out", colors="black")
    ax.tick_params(axis="x", which="minor", length=2.2, width=1.0,
                   direction="out")
    ax.tick_params(axis="y", which="major", length=2.5, width=1.2, pad=1.5,
                   direction="out")
    for sp in ax.spines.values():
        sp.set_visible(True)
        sp.set_linewidth(1.3)
        sp.set_color("black")
    ax.set_xlabel(XLAB, fontsize=13, fontweight="bold", labelpad=0.5)
    ax.set_ylabel(YLAB, fontsize=12.5, fontweight="bold", labelpad=3)
    fig.text(tpos[0] / W, 1 - tpos[1] / H, title, fontsize=15, ha="left",
             va="baseline")
    handles = [Line2D([], [], ls="", marker="s", markersize=leg["ms"],
                      markerfacecolor=c, markeredgewidth=0) for c in colors]
    lg = ax.legend(handles, labels, loc="upper left",
                   bbox_to_anchor=(leg["x"] / W, 1 - leg["y"] / H),
                   bbox_transform=fig.transFigure, borderaxespad=0,
                   frameon=leg["frame"], fancybox=False, shadow=False,
                   fontsize=leg["fs"], handlelength=leg["hl"],
                   handletextpad=leg["htp"], labelspacing=leg["ls"],
                   borderpad=leg["bp"], numpoints=1)
    if leg["frame"]:
        fr = lg.get_frame()
        fr.set_edgecolor("black")
        fr.set_linewidth(1.0)
        fr.set_facecolor("white")
        fr.set_alpha(1)
    for t in lg.get_texts():
        t.set_color("#222222")
    return ax


# 1
panel((80, 52.7, 344, 245.7), "1. NH3 50ppm", (40, 25.7), p1_labels,
      [p1_n2, p1_5, p1_10, p1_15, p1_20, p1_25, p1_30, p1_35, p1_40, p1_45,
       p1_50, p1_55, p1_60, p1_65], COLORS14, 1e-4, (0, 0.008),
      [i / 1000 for i in range(0, 9)], "%.3f", 11,
      dict(x=272, y=55.0, frame=False, fs=7, hl=1.0, htp=0.8, ls=0.1,
           bp=0.0, ms=3.6))
# 2
panel((431.2, 50.7, 693.8, 242.3), "2. Air humidity 30%", (389, 25),
      p2_labels, [p2_2, p2_5, p2_10, p2_15, p2_20, p2_25, p2_30, p2_35,
                  p2_40, p2_45], COLORS10, 1e-4, (-0.001, 0.008),
      [i / 1000 for i in range(-1, 9)], "%.3f", 11,
      dict(x=634.3, y=52.3, frame=True, fs=7, hl=2.0, htp=0.35, ls=0.1,
           bp=0.3, ms=3.6))
# 3
panel((780.6, 46.7, 1043.9, 239.3), "3. Nh3 50ppm", (742, 24), p3_labels,
      [p3_2, p3_5, p3_10, p3_15, p3_20, p3_25, p3_30, p3_35, p3_40, p3_45,
       p3_50, p3_55], COLORS14[:12], 1e-4, (0, 0.007),
      [i / 1000 for i in range(0, 8)], "%.3f", 11,
      dict(x=968.5, y=51.5, frame=False, fs=7, hl=1.0, htp=0.8, ls=0.1,
           bp=0.0, ms=3.6))
# 4
panel((77.3, 326.7, 341.5, 518.7), "4. Air humidity 60%", (47, 301),
      p4_labels, [p4_2, p4_5, p4_10, p4_15, p4_20, p4_25, p4_30, p4_35,
                  p4_40, p4_45], COLORS10, 1e-4, (0, 0.006),
      [i / 1000 for i in range(0, 7)], "%.3f", 11,
      dict(x=278.3, y=331.7, frame=True, fs=7, hl=2.2, htp=0.3, ls=0.2,
           bp=0.35, ms=3.6))
# 5
panel((416, 327.7, 678.8, 519.3), "5. NH3 50ppm", (390, 302.7), p5_labels,
      [p5_air, p5_20, p5_30, p5_50], COLORS10[:4], 1e-4, (0, 0.007),
      [i / 1000 for i in range(0, 8)], "%.3f", 11,
      dict(x=616, y=334.3, frame=True, fs=5.5, hl=1.15, htp=0.6, ls=0.1,
           bp=0.3, ms=3.2))
# 6
panel((783.3, 330.7, 1046.5, 522.3), "6. Dry air", (762.7, 304), p6_labels,
      [p6_5, p6_10, p6_20, p6_30, p6_40], COLORS10[:5], 1e-5, (0, 0.0012),
      [0.0, 0.0005, 0.0010], "%.4f", 13,
      dict(x=983.3, y=337.3, frame=True, fs=5.5, hl=1.3, htp=0.6, ls=0.12,
           bp=0.3, ms=3.2))

fig.savefig("out.png", dpi=100, facecolor="white")
